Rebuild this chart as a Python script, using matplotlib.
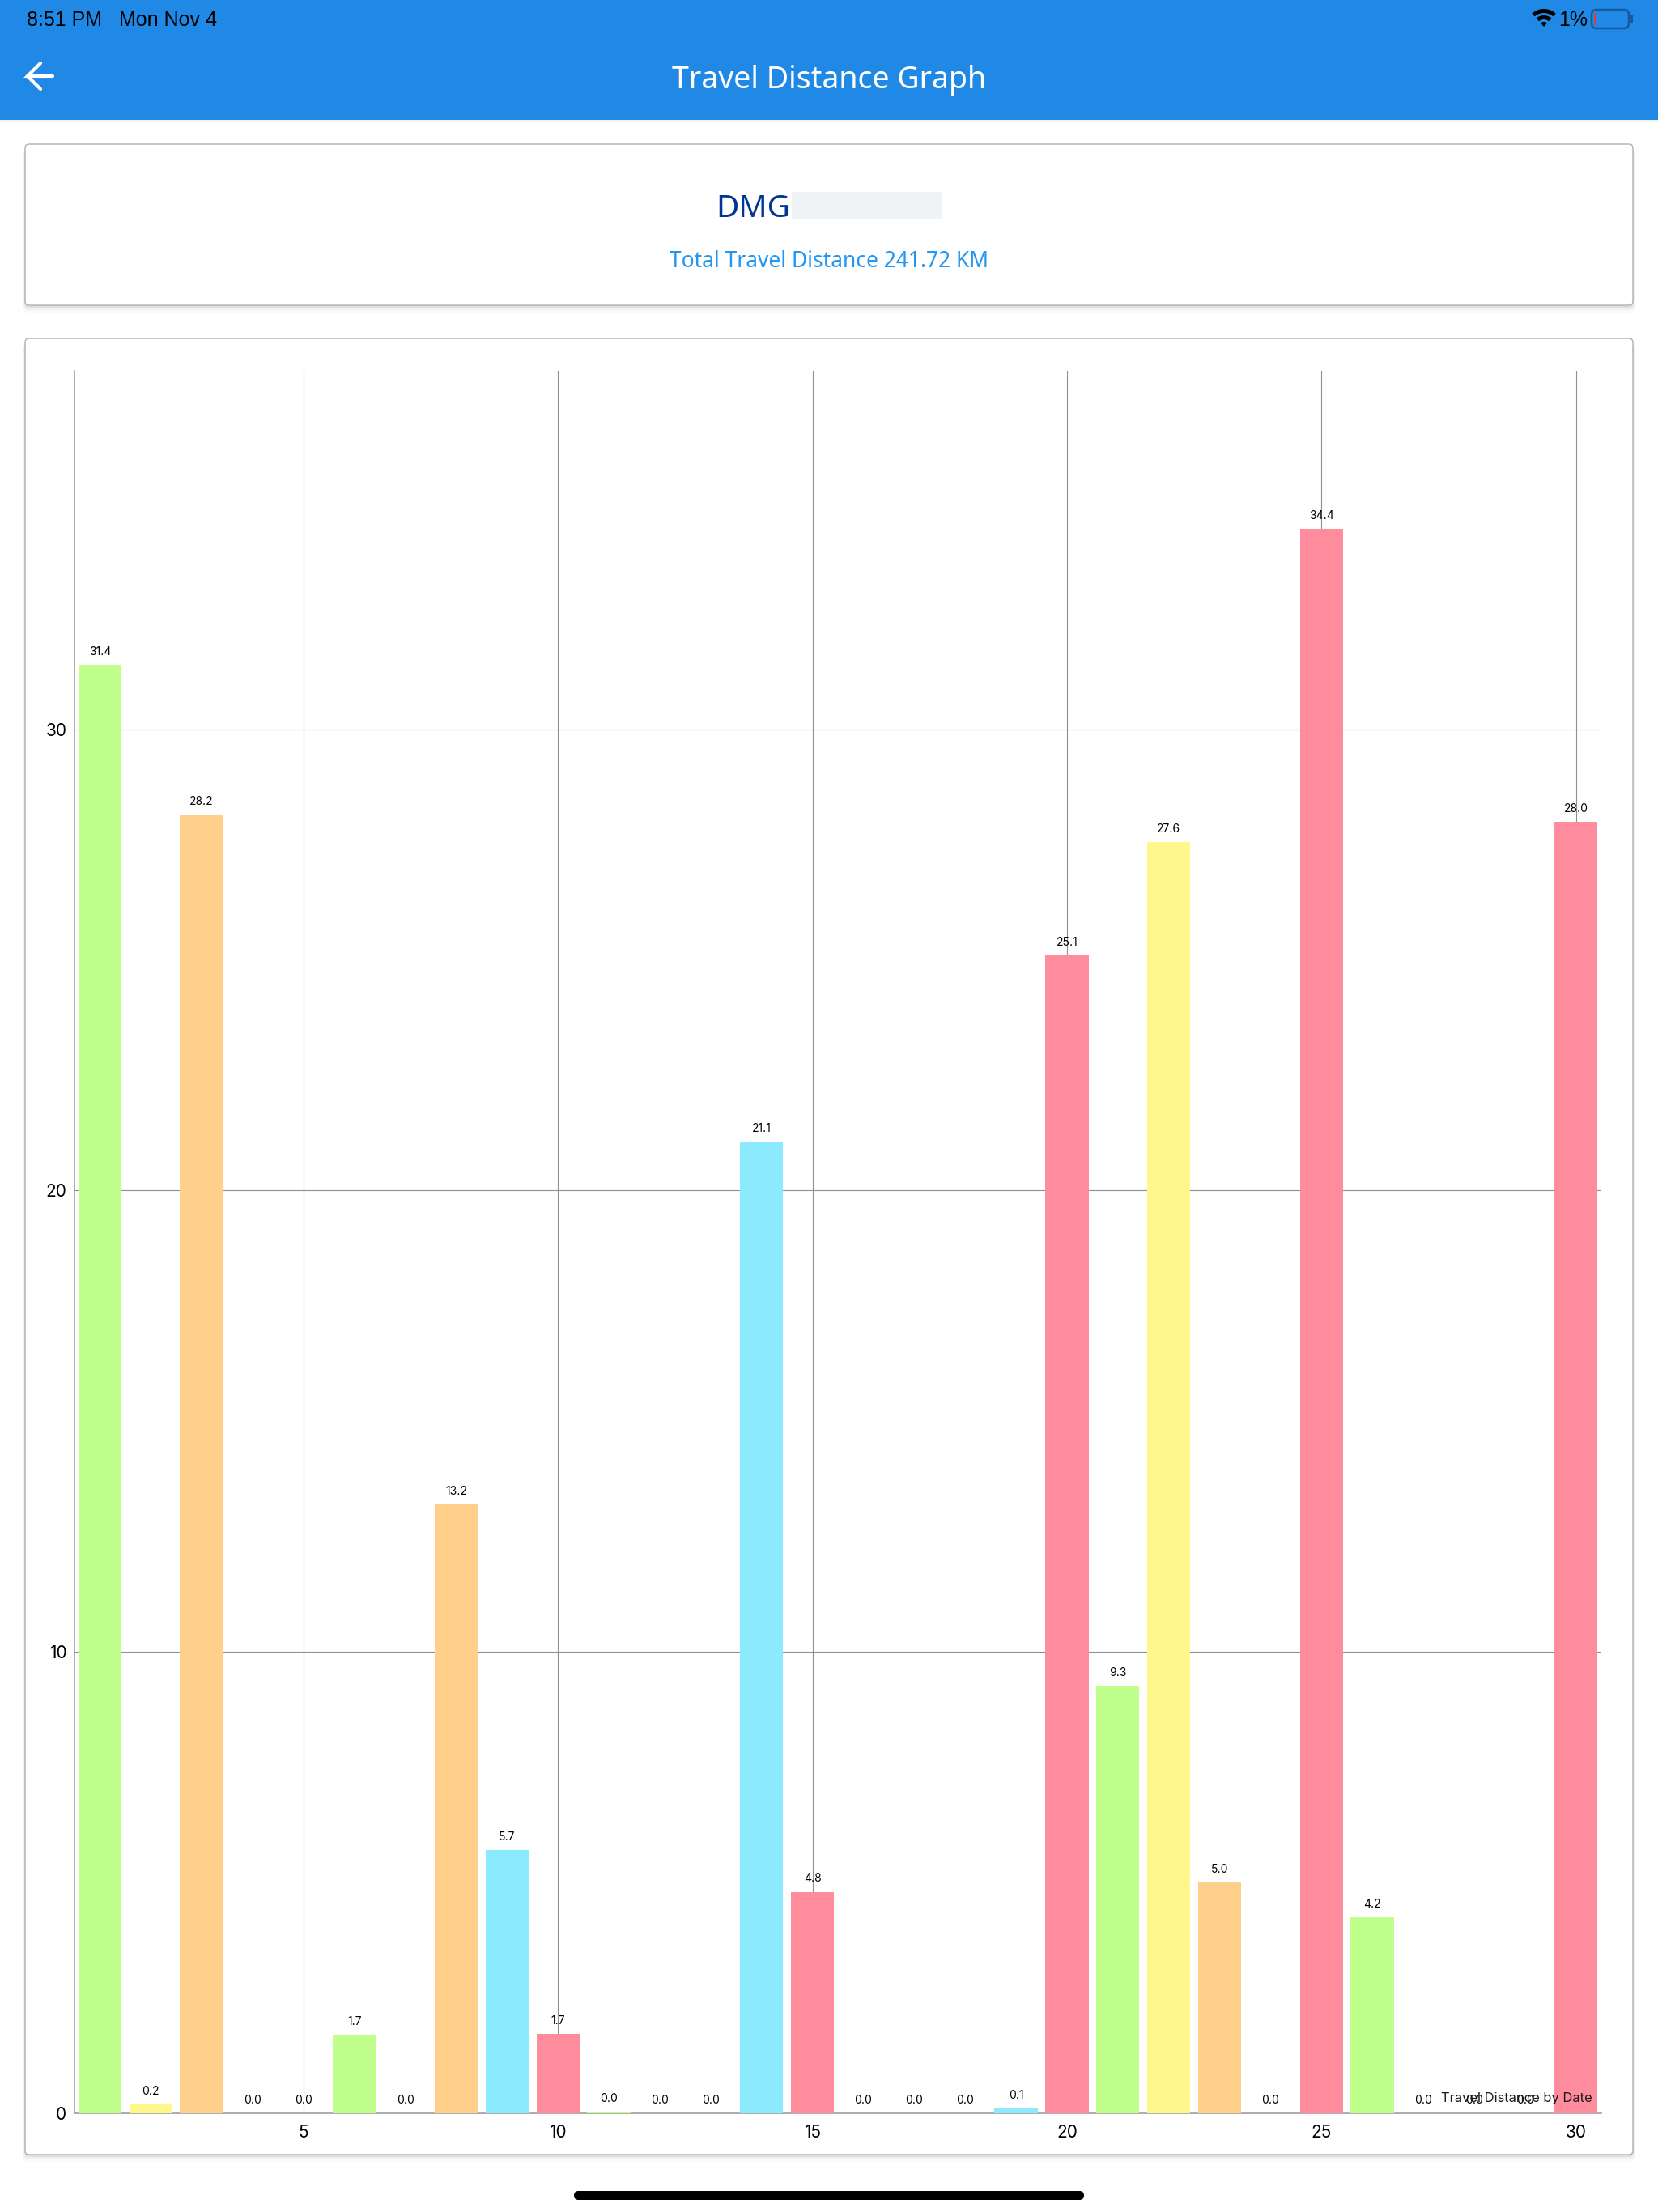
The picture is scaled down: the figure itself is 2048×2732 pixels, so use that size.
import matplotlib
matplotlib.use("Agg")
import matplotlib.pyplot as plt
from matplotlib.patches import Rectangle, FancyBboxPatch, Wedge

# km per day of the month
days = list(range(1, 31))
distance = [31.4, 0.2, 28.16, 0.0, 0.0, 1.7, 0.0, 13.2, 5.7, 1.72,
            0.03, 0.0, 0.0, 21.06, 4.8, 0.0, 0.0, 0.0, 0.1, 25.1,
            9.26, 27.56, 5.0, 0.0, 34.35, 4.24, 0.0, 0.0, 0.0, 28.0]
palette = ["#c1ff8c", "#fff78c", "#ffd08c", "#8ceaff", "#ff8c9d"]
x_ticks = [5, 10, 15, 20, 25, 30]
y_ticks = [0, 10, 20, 30]

W, H = 2048, 2732
fig = plt.figure(figsize=(W / 100, H / 100), dpi=100, facecolor="white")

# everything around the chart is laid out in screen pixels
bg = fig.add_axes([0, 0, 1, 1], zorder=0)
bg.set_xlim(0, W)
bg.set_ylim(H, 0)
bg.axis("off")

bg.add_patch(Rectangle((0, 0), W, 148, fc="#2088e5", ec="none"))
bg.plot([0, W], [148.5, 148.5], color="#b5c0c8", lw=1)


def card(x0, y0, x1, y1):
    for off, alpha in [(9, 0.02), (6, 0.04), (3, 0.07)]:
        bg.add_patch(FancyBboxPatch((x0 - off / 3, y0 + off), x1 - x0 + off * 2 / 3, y1 - y0,
                                    boxstyle="round,pad=0,rounding_size=6",
                                    fc="black", ec="none", alpha=alpha))
    bg.add_patch(FancyBboxPatch((x0, y0), x1 - x0, y1 - y0,
                                boxstyle="round,pad=0,rounding_size=5",
                                fc="white", ec="#b0b0b0", lw=1.0))


card(31, 178, 2017, 377)
card(31, 418, 2017, 2661)

# status bar
bg.text(33, 25, "8:51 PM", fontsize=18, family="Liberation Sans", color="black", va="center")
bg.text(147, 25, "Mon Nov 4", fontsize=18, family="Liberation Sans", color="black", va="center")
bg.text(1961, 25, "1%", fontsize=18, family="Liberation Sans", color="black", va="center", ha="right")
for r, w in [(22, 5), (14, 5), (6, 6)]:
    bg.add_patch(Wedge((1907, 33), r, 228, 312, width=w, fc="black", ec="none"))
bg.add_patch(FancyBboxPatch((1966, 12), 46, 23, boxstyle="round,pad=0,rounding_size=6",
                            fc="none", ec="#17599c", lw=1.8))
bg.add_patch(Rectangle((1969, 16), 2, 15, fc="#e5393a", ec="none"))
bg.add_patch(Rectangle((2014, 19), 3, 9, fc="#17599c", ec="none"))

# app bar
bg.plot([65, 34, 50], [94, 94, 78], color="white", lw=3, solid_capstyle="round", solid_joinstyle="miter")
bg.plot([34, 50], [94, 110], color="white", lw=3, solid_capstyle="round")
bg.text(1024, 99, "Travel Distance Graph", fontsize=27, family="Noto Sans", color="white",
        ha="center", va="center")

# header card
bg.text(884, 258, "DMG", fontsize=28, family="Noto Sans", color="#003594", va="center")
bg.add_patch(Rectangle((978, 237), 186, 34, fc="#f0f3f6", ec="none", zorder=5))
bg.text(1024, 323, "Total Travel Distance 241.72 KM", fontsize=19, family="Noto Sans",
        color="#2196f3", ha="center", va="center")

# home indicator
bg.add_patch(FancyBboxPatch((709, 2706), 630, 11, boxstyle="round,pad=0,rounding_size=5.5",
                            fc="black", ec="none"))

# chart area, from x=92..1978 and y=458..2610 px
ax = fig.add_axes([92 / W, 1 - 2610 / H, (1978 - 92) / W, (2610 - 458) / H], zorder=1)
ax.patch.set_alpha(0)
bar_colors = [palette[i % len(palette)] for i in range(len(days))]
bars = ax.bar(days, distance, width=0.85, color=bar_colors, zorder=3)
ax.set_xlim(0.5, 30.5)
ax.set_ylim(0, 37.77)
ax.set_xticks(x_ticks)
ax.set_yticks(y_ticks)
ax.grid(True, color="#8f8f8f", lw=0.8, zorder=0)
ax.set_axisbelow(True)
for side in ["top", "right"]:
    ax.spines[side].set_visible(False)
for side in ["left", "bottom"]:
    ax.spines[side].set_color("#a0a0a0")
    ax.spines[side].set_linewidth(1.2)
ax.tick_params(length=0, labelsize=15, labelcolor="black", labelfontfamily="Inter")
ax.tick_params(axis="x", pad=10)
ax.tick_params(axis="y", pad=7)

for day, val in zip(days, distance):
    ax.annotate(f"{val:.1f}", (day, val), xytext=(0, 6.5), textcoords="offset points",
                ha="center", va="bottom", fontsize=10, family="Inter", color="black",
                zorder=4)

ax.text(1967, 2599, "Travel Distance by Date", transform=bg.transData, fontsize=11.9,
        family="Inter", color="#1a1a1a", ha="right", va="bottom", zorder=5)

fig.savefig("out.png", dpi=100, facecolor="white")
